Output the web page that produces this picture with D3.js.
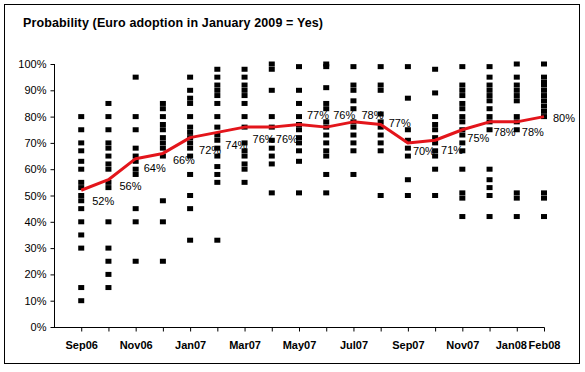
<!DOCTYPE html>
<html lang="en">
<head>
<meta charset="UTF-8">
<title>Euro adoption probability</title>
<script src="https://cdn.jsdelivr.net/npm/d3@7"></script>
<style>
  body { margin: 0; background: #fff; }
  svg { display: block; font-family: Arial, "Liberation Sans", sans-serif; }
</style>
</head>
<body>
<svg id="chart" width="585" height="372"></svg>
<script>
// months on the category axis
const months = ["Sep06","Oct06","Nov06","Dec06","Jan07","Feb07","Mar07","Apr07","May07",
                "Jun07","Jul07","Aug07","Sep07","Oct07","Nov07","Dec07","Jan08","Feb08"];
const tickLabels = ["Sep06","Nov06","Jan07","Mar07","May07","Jul07","Sep07","Nov07","Jan08","Feb08"];

// individual answers per month (%)
const forecasts = [
  [80,75,70,67,63,60,55,53,50,48,45,40,35,30,15,10],
  [85,80,75,70,68,65,62,60,55,53,40,30,25,20,15],
  [95,80,75,68,65,63,60,58,45,40,25],
  [85,83,80,77,75,72,70,68,65,48,40,25],
  [95,90,87,85,80,76,74,72,70,68,65,58,50,45,33],
  [98,95,92,90,88,85,80,76,73,71,68,65,61,58,55,33],
  [98,95,92,90,88,85,80,76,70,67,65,62,60,55],
  [100,98,90,80,76,71,68,65,62,51],
  [99,90,85,80,77,75,72,70,67,63,51],
  [100,99,91,85,83,78,76,73,70,67,65,58,51],
  [99,92,90,86,83,78,76,73,70,67,58],
  [99,92,90,81,78,76,73,70,67,50],
  [99,87,75,71,68,65,56,50],
  [98,89,80,77,75,72,70,67,65,60,50],
  [99,92,90,88,85,83,80,78,75,73,70,67,60,51,49,42],
  [99,95,92,90,88,86,83,80,78,75,60,56,53,50,42],
  [100,95,92,90,88,86,80,78,75,51,49,42],
  [100,95,93,92,90,88,86,84,82,80,51,49,42]
];

// average probability (red line)
const averages = [52,56,64,66,72,74,76,76,77,76,78,77,70,71,75,78,78,80];

// label nudges relative to the point (dx, baseline dy)
const labelOffsets = [[11,15],[11,10],[8,13],[10,11],[9,16],[8,17],[8,16],[4,16],[8,-5],
                      [7,-8],[8,-3],[8,3],[5,12],[6,14],[5,12],[4,14],[5,14],[9,5]];

const svg = d3.select("#chart");

// outer frame
svg.append("rect")
  .attr("x", 4.5).attr("y", 4.5).attr("width", 575).attr("height", 359)
  .attr("fill", "none").attr("stroke", "#000").attr("stroke-width", 1);

svg.append("text")
  .attr("x", 23).attr("y", 27)
  .attr("font-size", 12.5).attr("font-weight", "bold")
  .attr("textLength", 300).attr("lengthAdjust", "spacing")
  .text("Probability (Euro adoption in January 2009 = Yes)");

const x0 = 54, x1 = 544, yTop = 64, yBot = 327;

const x = d3.scaleLinear().domain([-1, months.length - 1]).range([x0, x1]);
const y = d3.scaleLinear().domain([0, 100]).range([yBot, yTop]);

// y axis
const yAxis = d3.axisLeft(y).tickValues(d3.range(0, 101, 10))
  .tickFormat(d => d + "%").tickSize(4).tickPadding(4);
const gy = svg.append("g").attr("transform", `translate(${x0 + 0.5},0)`).call(yAxis);
gy.select(".domain").attr("d", `M0,${yTop}V${yBot + 0.5}`);
gy.selectAll("text").attr("font-size", 11).attr("font-family", null).attr("fill", "#000");
gy.selectAll("line").attr("stroke", "#000");

// x axis
const xAxis = d3.axisBottom(x).tickValues(d3.range(0, months.length))
  .tickFormat(i => tickLabels.includes(months[i]) ? months[i] : "")
  .tickSize(4).tickPadding(10).tickSizeOuter(0);
const gx = svg.append("g").attr("transform", `translate(0,${yBot + 0.5})`).call(xAxis);
gx.select(".domain").attr("d", `M${x0},0H${x1 + 0.5}`);
gx.selectAll("text").attr("font-size", 11).attr("font-weight", "bold")
  .attr("font-family", null).attr("fill", "#000")
  // the last two labels sit one month apart, so push Jan08 left a little
  .attr("dx", i => months[i] === "Jan08" ? -6 : 0);
gx.selectAll("line").attr("stroke", "#000");

// scatter squares
const pts = forecasts.flatMap((vals, i) => vals.map(v => ({ i, v })));
const sq = 6;
svg.append("g").selectAll("rect").data(pts).join("rect")
  .attr("x", d => x(d.i) - sq / 2)
  .attr("y", d => y(d.v) - 2.5)
  .attr("width", sq).attr("height", 5)
  .attr("fill", "#000");

// average line
const line = d3.line().x((d, i) => x(i)).y(d => y(d));
svg.append("path").datum(averages)
  .attr("d", line)
  .attr("fill", "none")
  .attr("stroke", "#e3151b")
  .attr("stroke-width", 3)
  .attr("stroke-linejoin", "round");

// value labels
svg.append("g").selectAll("text").data(averages).join("text")
  .attr("x", (d, i) => x(i) + labelOffsets[i][0])
  .attr("y", (d, i) => y(d) + labelOffsets[i][1])
  .attr("font-size", 11)
  .attr("fill", "#000")
  .text(d => d + "%");
</script>
</body>
</html>
